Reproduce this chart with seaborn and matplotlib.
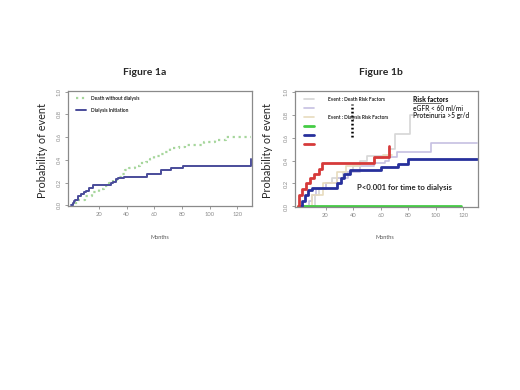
import seaborn as sns
import matplotlib.pyplot as plt
from matplotlib.lines import Line2D

# Figure 1a: cumulative incidence (months, probability)
death_t = [0, 1, 5, 10, 15, 20, 24, 27, 30, 33, 36, 39, 42, 46, 50, 54, 57, 60, 64, 67, 71, 78, 82, 93, 96, 104, 112, 130]
death_p = [0, 0.02, 0.05, 0.08, 0.12, 0.14, 0.17, 0.2, 0.22, 0.25, 0.28, 0.31, 0.33, 0.35, 0.37, 0.38, 0.41, 0.43, 0.45, 0.47, 0.5, 0.51, 0.53, 0.53, 0.56, 0.57, 0.6, 0.6]
dial_t = [0, 1, 2, 3, 5, 7, 9, 11, 13, 16, 28.5, 30, 32, 34, 38, 55, 65, 72, 81, 130, 130]
dial_p = [0, 0.02, 0.04, 0.05, 0.08, 0.1, 0.12, 0.13, 0.15, 0.18, 0.2, 0.21, 0.23, 0.24, 0.25, 0.28, 0.31, 0.33, 0.35, 0.35, 0.41]

# Figure 1b: by number of risk factors
d0_t = [8, 12, 15, 20, 25, 33, 40, 45, 50, 66, 70.5, 81.5, 88]
d0_p = [0, 0.1, 0.15, 0.2, 0.25, 0.3, 0.35, 0.4, 0.44, 0.5, 0.63, 0.8, 0.8]
d1_t = [3, 8, 10, 13, 20, 28, 36, 45, 55, 63, 66, 72, 96.5, 130]
d1_p = [0, 0.05, 0.1, 0.15, 0.2, 0.25, 0.3, 0.35, 0.38, 0.4, 0.43, 0.47, 0.55, 0.55]
d2_t = [2, 10, 18, 28, 35, 45, 55, 62, 68]
d2_p = [0, 0.1, 0.2, 0.3, 0.35, 0.38, 0.42, 0.45, 0.45]
g_t = [0, 118]
g_p = [0, 0]
b_t = [1, 3, 5, 7, 10, 28.5, 31.5, 33.5, 38, 60, 72.5, 80, 130]
b_p = [0, 0.05, 0.1, 0.14, 0.16, 0.2, 0.25, 0.28, 0.32, 0.34, 0.37, 0.41, 0.41]
r_t = [0, 0.5, 3, 6, 9, 11.5, 15, 17.5, 55.5, 66]
r_p = [0, 0.1, 0.15, 0.2, 0.25, 0.28, 0.33, 0.38, 0.43, 0.53]

x_ticks = [20, 40, 60, 80, 100, 120]
y_ticks = [0.0, 0.2, 0.4, 0.6, 0.8, 1.0]

sns.set_style("white")
plt.rcParams['font.family'] = ['Lato', 'DejaVu Sans']

fig = plt.figure(figsize=(5.2, 3.9), dpi=100)
ax1 = fig.add_axes([0.1308, 0.4718, 0.354, 0.295])
ax2 = fig.add_axes([0.567, 0.4692, 0.352, 0.2974])


def step(ax, t, p, **kw):
    sns.lineplot(x=t, y=p, ax=ax, drawstyle='steps-post', estimator=None, sort=False, **kw)


def style_axes(ax):
    ax.set_xlim(-2.3, 130.6)
    ax.set_ylim(-0.005, 1.005)
    ax.set_xticks(x_ticks)
    ax.set_yticks(y_ticks)
    ax.set_yticklabels([f"{v:.1f}" for v in y_ticks], rotation=90, va='center')
    ax.tick_params(axis='both', direction='out', length=2.5, width=0.6, colors='#8a8a8a',
                   labelsize=4.2, pad=2, bottom=True, left=True)
    for s in ax.spines.values():
        s.set_color('#8a8a8a')
        s.set_linewidth(0.9)
    ax.set_xlabel('')
    ax.set_ylabel('')


c_green_dot = '#a6d69c'
c_blue1 = '#4a4c9a'
step(ax1, death_t, death_p, color=c_green_dot, linestyle=':', linewidth=1.6)
step(ax1, dial_t, dial_p, color=c_blue1, linewidth=1.4)
style_axes(ax1)
ax1.legend(handles=[Line2D([], [], color=c_green_dot, ls=':', lw=1.6),
                    Line2D([], [], color=c_blue1, lw=1.4)],
           labels=['Death without dialysis', 'Dialysis Initiation'],
           loc='upper left', bbox_to_anchor=(0.045, 0.955), frameon=False,
           prop={'size': 3.5, 'weight': 'bold'}, handlelength=2.0,
           handletextpad=1.0, labelspacing=1.4, borderpad=0, borderaxespad=0)

cols = ['#d6d6d6', '#c6c0e2', '#e8dcbe', '#44cc44', '#27309c', '#d63a3a']
series = [(d0_t, d0_p), (d1_t, d1_p), (d2_t, d2_p), (g_t, g_p), (b_t, b_p), (r_t, r_p)]
widths = [1.2, 1.2, 1.2, 2.0, 2.0, 2.0]
for (t, p), c, w in zip(series, cols, widths):
    step(ax2, t, p, color=c, linewidth=w)
style_axes(ax2)
ax2.legend(handles=[Line2D([], [], color=c, lw=w) for c, w in zip(cols, widths)],
           labels=['Event : Death Risk Factors', ' ', 'Event : Dialysis Risk Factors', ' ', ' ', ' '],
           loc='upper left', bbox_to_anchor=(0.05, 0.95), frameon=False,
           prop={'size': 3.5, 'weight': 'bold'}, handlelength=2.1,
           handletextpad=2.9, labelspacing=0.8, borderpad=0, borderaxespad=0)
ax2.plot([0.311, 0.311], [0.60, 0.885], transform=ax2.transAxes, color='black',
         linestyle=(0, (0.7, 0.9)), linewidth=1.8)
ax2.text(0.645, 0.93, 'Risk factors', transform=ax2.transAxes, fontsize=4.8,
         fontweight='heavy', va='center', ha='left')
ax2.plot([0.645, 0.80], [0.895, 0.895], transform=ax2.transAxes, color='black', lw=0.4)
ax2.text(0.645, 0.853, 'eGFR < 60 ml/mi', transform=ax2.transAxes, fontsize=4.8,
         fontweight='semibold', va='center', ha='left')
ax2.text(0.645, 0.79, 'Proteinuria >5 gr/d', transform=ax2.transAxes, fontsize=4.8,
         fontweight='semibold', va='center', ha='left')
ax2.text(0.339, 0.164, 'P<0.001 for time to dialysis', transform=ax2.transAxes,
         fontsize=5.6, fontweight='bold', va='center', ha='left')

for x, title in [(0.279, 'Figure 1a'), (0.733, 'Figure 1b')]:
    fig.text(x, 0.815, title, fontsize=7.5, fontweight='bold', ha='center', va='center')
for x in [0.081, 0.515]:
    fig.text(x, 0.614, 'Probability of event', fontsize=7.8, rotation=90,
             ha='center', va='center')
for x in [0.307, 0.74]:
    fig.text(x, 0.392, 'Months', fontsize=4, color='#555555', ha='center', va='center')

fig.savefig('out.png', dpi=100)
